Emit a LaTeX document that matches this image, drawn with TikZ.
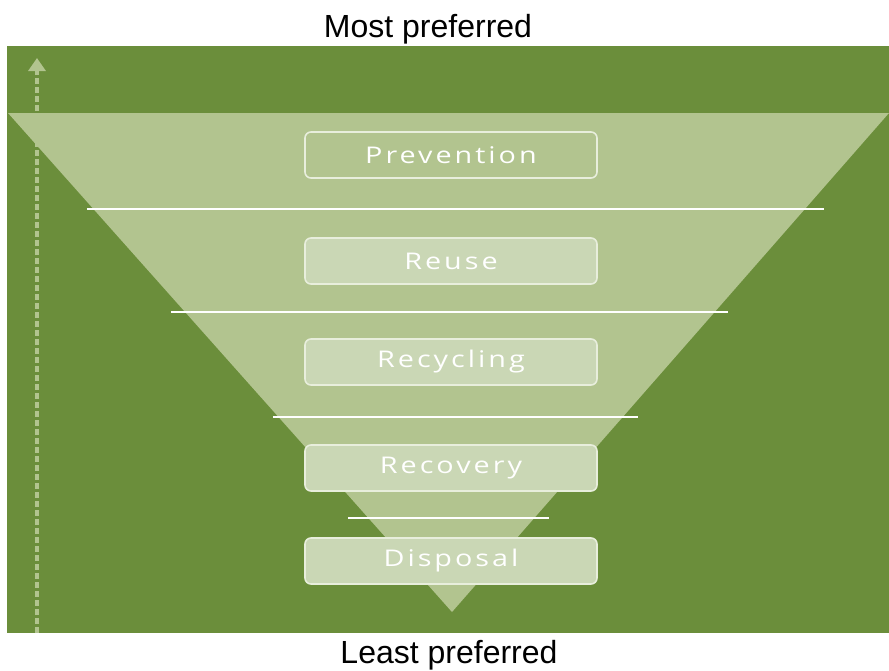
\documentclass[tikz,border=0pt]{standalone}
\usepackage{fontspec}
\setmainfont{Liberation Sans}
\newfontfamily\boxfont[FakeStretch=1.25, LetterSpace=13, Ligatures=NoCommon]{Open Sans}
\usetikzlibrary{arrows.meta}
\definecolor{leafgreen}{HTML}{6B8E3B}
\definecolor{palegreen}{HTML}{B2C48F}
\definecolor{boxgreen}{HTML}{CAD7B5}
\definecolor{rimgreen}{HTML}{E8EEDC}
\tikzset{
    my-tier/.style={
        draw=rimgreen, line width=1.6pt, rounded corners=6pt, fill=boxgreen,
        minimum width=292pt, minimum height=46pt, inner sep=0pt,
        text=white, font=\boxfont\fontsize{23}{23}\selectfont
    },
    my-top-tier/.style={
        my-tier, fill=palegreen
    },
    my-divider/.style={
        draw=white, line width=2.6pt
    },
    my-caption/.style={
        font=\fontsize{32}{32}\selectfont, inner sep=0pt
    },
}

\begin{document}
\begin{tikzpicture}[x=1pt, y=-1pt]

        \useasboundingbox (0,0) rectangle (889,670);

        % BACKGROUND
        \fill[leafgreen] (7,46) rectangle (889,633);

        % ARROW
        \coordinate (ARROWFOOT) at (37,633);
        \coordinate (ARROWTIP)  at (37,58);
        \draw[palegreen, line width=4pt, dash pattern=on 6pt off 3pt,
              -{Triangle[width=17pt, length=13pt]}] (ARROWFOOT) -- (ARROWTIP);

        % TRIANGLE
        \fill[palegreen] (8,113) -- (889,113) -- (452,612) -- cycle;

        % DIVIDERS
        \draw[my-divider] (87,209)  -- (824,209);
        \draw[my-divider] (171,312) -- (728,312);
        \draw[my-divider] (273,417) -- (638,417);
        \draw[my-divider] (348,518) -- (549,518);

        % TIERS
        \node[my-top-tier] (PREVENTION) at (451,155) {Prevention};
        \node[my-tier]     (REUSE)      at (451,261) {Reuse};
        \node[my-tier]     (RECYCLING)  at (451,362) {Recycling};
        \node[my-tier]     (RECOVERY)   at (451,468) {Recovery};
        \node[my-tier]     (DISPOSAL)   at (451,561) {Disposal};

        % CAPTIONS
        \node[my-caption] (MOST)  at (428,29)  {Most preferred};
        \node[my-caption] (LEAST) at (449,655) {Least preferred};

\end{tikzpicture}
\end{document}
